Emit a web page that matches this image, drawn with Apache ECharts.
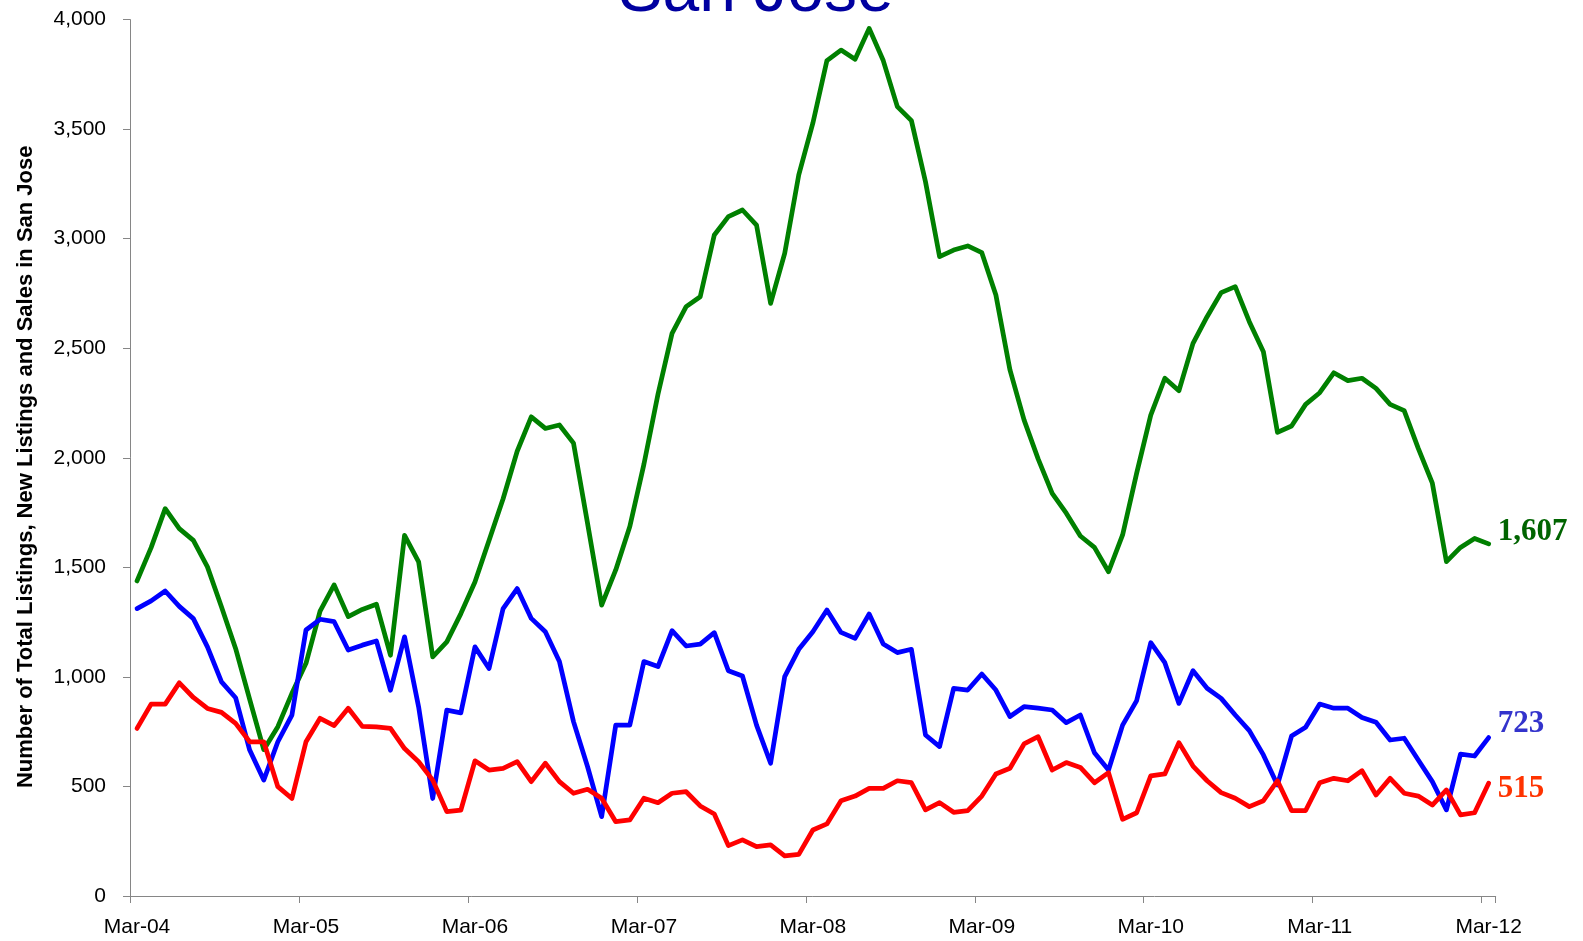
<!DOCTYPE html>
<html><head><meta charset="utf-8">
<script src="https://cdn.jsdelivr.net/npm/echarts@6/dist/echarts.min.js"></script>
<style>html,body{margin:0;padding:0;background:#fff}#c{width:1583px;height:941px}</style>
</head><body><div id="c"></div>
<script>
// Month labels (Mar-04 .. Mar-12, monthly)
const monthNames = ['Jan','Feb','Mar','Apr','May','Jun','Jul','Aug','Sep','Oct','Nov','Dec'];
const startYear = 2004, startMonthIndex = 2, monthCount = 97;
const categories = [];
for (let k = 0; k < monthCount; k++) {
  const m = (startMonthIndex + k) % 12;
  const y = startYear + Math.floor((startMonthIndex + k) / 12);
  categories.push(monthNames[m] + '-' + String(y % 100).padStart(2, '0'));
}

// Total listings (green)
const totalListings = [1438,1590,1768,1677,1623,1502,1319,1130,897,668,
  773,925,1062,1300,1420,1275,1308,1332,1099,1646,
  1525,1091,1160,1289,1433,1623,1813,2030,2187,2134,
  2150,2067,1700,1328,1488,1686,1970,2290,2568,2690,
  2735,3017,3101,3131,3062,2705,2933,3291,3527,3813,
  3861,3819,3960,3813,3603,3539,3260,2918,2948,2967,
  2936,2743,2401,2173,1995,1838,1747,1643,1591,1480,
  1648,1930,2195,2363,2306,2522,2644,2754,2781,2621,
  2484,2116,2145,2244,2297,2388,2352,2363,2317,2244,
  2215,2043,1884,1526,1591,1632,1607];

// New listings (blue)
const newListings = [1312,1347,1392,1322,1266,1137,977,905,666,529,
  704,826,1214,1263,1252,1123,1145,1164,939,1183,
  863,445,848,836,1137,1038,1312,1403,1267,1206,
  1070,796,590,362,780,780,1070,1047,1211,1141,
  1150,1202,1028,1004,780,606,1001,1126,1206,1305,
  1203,1176,1287,1150,1111,1126,735,682,948,940,
  1013,940,819,864,857,849,791,826,654,575,
  780,892,1156,1065,879,1028,948,902,826,755,
  644,507,730,770,876,857,857,815,793,712,
  720,621,522,393,648,639,723];

// Sales (red)
const sales = [765,876,876,973,906,856,838,788,704,704,
  499,445,704,811,778,857,774,772,765,673,
  613,529,385,392,617,575,582,613,522,606,
  522,469,487,446,339,347,446,426,469,476,
  411,374,230,256,225,233,183,190,301,329,
  435,456,491,491,526,517,393,426,382,390,
  456,557,583,694,727,575,609,587,517,563,
  350,380,548,557,700,593,526,472,446,408,
  435,526,390,390,517,537,526,572,461,537,
  469,456,415,484,370,380,515];

const yMin = 0, yMax = 4000, yStep = 500;
const titleText = 'San Jose';
const yAxisName = 'Number of Total Listings, New Listings and Sales in San Jose';

const fmt = v => Number(v).toLocaleString('en-US');
const chart = echarts.init(document.getElementById('c'), null, {renderer: 'canvas'});

function lineSeries(name, data, color, labelColor, offset) {
  return {
    name, type: 'line', data, symbol: 'none', showSymbol: false,
    lineStyle: {color, width: 4.75, join: 'round', cap: 'round'},
    itemStyle: {color},
    endLabel: {
      show: true, formatter: p => fmt(p.value), distance: 0, offset,
      color: labelColor, fontFamily: 'Liberation Serif', fontWeight: 'bold', fontSize: 31
    },
    animation: false
  };
}

chart.setOption({
  animation: false,
  backgroundColor: '#ffffff',
  title: {
    text: titleText, left: 756, top: -40, textAlign: 'center', padding: 0,
    textStyle: {color: '#0000A0', fontFamily: 'Liberation Sans', fontWeight: 'normal', fontSize: 66}
  },
  grid: {left: 130, right: 87.3, top: 19.6, bottom: 45, containLabel: false, outerBoundsMode: 'none'},
  xAxis: {
    type: 'category', data: categories, boundaryGap: true,
    axisLine: {show: true, lineStyle: {color: '#868686', width: 1}},
    axisTick: {show: true, length: 7, interval: (i) => i % 12 === 0, lineStyle: {color: '#868686'}},
    axisLabel: {interval: (i) => i % 12 === 0, margin: 21, color: '#000', fontFamily: 'Liberation Sans', fontSize: 21},
    splitLine: {show: false}
  },
  yAxis: {
    type: 'value', min: yMin, max: yMax, interval: yStep,
    name: yAxisName, nameLocation: 'middle', nameGap: 93,
    nameTextStyle: {color: '#000', fontFamily: 'Liberation Sans', fontWeight: 'bold', fontSize: 22, padding: [0, 18, 0, 0]},
    axisLine: {show: true, lineStyle: {color: '#868686', width: 1}},
    axisTick: {show: true, length: 7, lineStyle: {color: '#868686'}},
    axisLabel: {formatter: v => fmt(v), margin: 24, color: '#000', fontFamily: 'Liberation Sans', fontSize: 21},
    splitLine: {show: false}
  },
  series: [
    lineSeries('Total Listings', totalListings, '#008000', '#006400', [9, -11.5]),
    lineSeries('New Listings', newListings, '#0000FF', '#3333CC', [9, -14]),
    lineSeries('Sales', sales, '#FF0000', '#FF3300', [9, 5.5])
  ]
});
</script>
</body></html>
